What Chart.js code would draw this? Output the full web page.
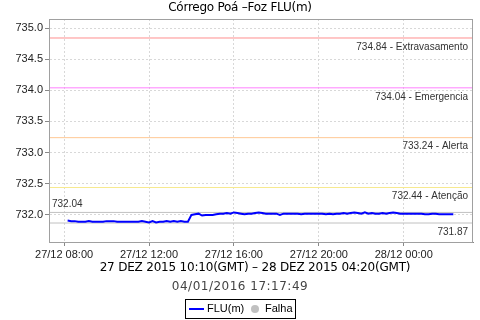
<!DOCTYPE html>
<html>
<head>
<meta charset="utf-8">
<script src="https://cdn.jsdelivr.net/npm/chart.js@4.4.1/dist/chart.umd.min.js"></script>
<style>
  html, body { margin: 0; padding: 0; background: #fff; }
</style>
</head>
<body>
<canvas id="levelChart" width="480" height="320"></canvas>
<script>
// readings, local time (GMT-2), 27/12 08:10 -> 28/12 02:20
const times = [
  '08:10','08:20','08:30','08:40','08:50',
  '09:00','09:10','09:20','09:30','09:40','09:50',
  '10:00','10:10','10:20','10:30','10:40','10:50',
  '11:00','11:10','11:20','11:30','11:40','11:50',
  '12:00','12:10','12:20','12:30','12:40','12:50',
  '13:00','13:10','13:20','13:30','13:40','13:50',
  '14:00','14:10','14:20','14:30','14:40','14:50',
  '15:00','15:10','15:20','15:30','15:40','15:50',
  '16:00','16:10','16:20','16:30','16:40','16:50',
  '17:00','17:10','17:20','17:30','17:40','17:50',
  '18:00','18:10','18:20','18:30','18:40','18:50',
  '19:00','19:10','19:20','19:30','19:40','19:50',
  '20:00','20:10','20:20','20:30','20:40','20:50',
  '21:00','21:10','21:20','21:30','21:40','21:50',
  '22:00','22:10','22:20','22:30','22:40','22:50',
  '23:00','23:10','23:20','23:30','23:40','23:50',
  '00:00','00:10','00:20','00:30','00:40','00:50',
  '01:00','01:10','01:20','01:30','01:40','01:50',
  '02:00','02:10','02:20'
];
const levels = [
  731.91, 731.90, 731.90, 731.89, 731.89,
  731.89, 731.90, 731.89, 731.89, 731.89, 731.89,
  731.90, 731.90, 731.90, 731.89, 731.89, 731.89,
  731.89, 731.89, 731.89, 731.89, 731.90, 731.89,
  731.88, 731.90, 731.88, 731.89, 731.89, 731.90,
  731.89, 731.90, 731.89, 731.90, 731.89, 731.89,
  732.00, 732.01, 732.02, 731.99, 732.00, 732.00,
  732.00, 732.01, 732.02, 732.02, 732.03, 732.02,
  732.04, 732.03, 732.02, 732.01, 732.02, 732.02,
  732.03, 732.04, 732.03, 732.02, 732.02, 732.02,
  732.02, 732.00, 732.02, 732.02, 732.02, 732.02,
  732.02, 732.01, 732.02, 732.02, 732.02, 732.02,
  732.02, 732.02, 732.01, 732.02, 732.01, 732.02,
  732.02, 732.03, 732.02, 732.03, 732.04, 732.03,
  732.02, 732.04, 732.02, 732.03, 732.02, 732.02,
  732.03, 732.02, 732.03, 732.04, 732.03, 732.02,
  732.02, 732.02, 732.02, 732.02, 732.02, 732.02,
  732.01, 732.01, 732.02, 732.02, 732.01, 732.01,
  732.01, 732.01, 732.01
];

const limitValues = [734.84, 734.04, 733.24, 732.44];
const limitNames = ['Extravasamento', 'Emergencia', 'Alerta', 'Atenção'];
const limitColors = ['#ff8f8f', '#ff80ff', '#ffc894', '#f7e98e'];
const maxLevel = 732.04;
const minLevel = 731.87;

const title = 'Córrego Poá –Foz FLU(m)';
const period = '27 DEZ 2015 10:10(GMT) – 28 DEZ 2015 04:20(GMT)';
const stamp = '04/01/2016 17:17:49';
const legendNames = ['FLU(m)', 'Falha'];

// x axis in hours since 27/12 00:00
const xMin = 7.29, xMax = 27.26;
function toHours(t) {
  let h = parseInt(t.slice(0, 2)) + parseInt(t.slice(3)) / 60;
  if (h < 8) h += 24;
  return h;
}
const points = times.map((t, i) => ({ x: toHours(t), y: levels[i] }));

function hline(v, color) {
  return {
    data: [{ x: xMin, y: v }, { x: xMax, y: v }],
    borderColor: color,
    borderWidth: 1,
    pointRadius: 0
  };
}

const font = 'DejaVu Sans';
const narrow = 'Liberation Sans';

const extras = {
  id: 'extras',
  afterDraw(c) {
    const ctx = c.ctx;
    const a = c.chartArea;
    const y = c.scales.y;
    ctx.save();
    // frame
    ctx.strokeStyle = '#a0a0a0';
    ctx.lineWidth = 1;
    ctx.strokeRect(a.left + 0.5, a.top + 0.5, a.right - a.left - 1, a.bottom - a.top);

    // limit labels
    ctx.font = '10px ' + narrow;
    ctx.fillStyle = '#333';
    ctx.textAlign = 'right';
    ctx.textBaseline = 'top';
    limitValues.forEach((v, i) => {
      ctx.fillText(v.toFixed(2) + ' - ' + limitNames[i], a.right - 5, y.getPixelForValue(v) + 4);
    });
    ctx.fillText(minLevel.toFixed(2), a.right - 5, y.getPixelForValue(minLevel) + 4);
    ctx.textAlign = 'left';
    ctx.textBaseline = 'bottom';
    ctx.fillText(maxLevel.toFixed(2), a.left + 3, y.getPixelForValue(maxLevel) - 3);

    // titles
    ctx.textAlign = 'center';
    ctx.textBaseline = 'middle';
    ctx.fillStyle = '#000';
    ctx.font = '12px ' + font;
    ctx.letterSpacing = '-0.25px';
    ctx.fillText(title, 240, 8);
    ctx.letterSpacing = '-0.2px';
    ctx.fillText(period, 255, 268);
    ctx.fillStyle = '#444';
    ctx.letterSpacing = '0.5px';
    ctx.fillText(stamp, 240, 287);
    ctx.letterSpacing = '0px';

    // legend
    ctx.strokeStyle = '#000';
    ctx.strokeRect(185.5, 299.5, 110, 19);
    ctx.strokeStyle = '#0000ff';
    ctx.lineWidth = 2;
    ctx.beginPath();
    ctx.moveTo(189, 309);
    ctx.lineTo(204, 309);
    ctx.stroke();
    ctx.font = '11px ' + narrow;
    ctx.fillStyle = '#000';
    ctx.textAlign = 'left';
    ctx.fillText(legendNames[0], 207, 309);
    ctx.fillStyle = '#c0c0c0';
    ctx.beginPath();
    ctx.arc(255, 309, 4, 0, Math.PI * 2);
    ctx.fill();
    ctx.fillStyle = '#000';
    ctx.fillText(legendNames[1], 265, 309);
    ctx.restore();
  }
};

const ctx = document.getElementById('levelChart').getContext('2d');
const chart = new Chart(ctx, {
  type: 'line',
  data: {
    datasets: [
      {
        label: legendNames[0],
        data: points,
        borderColor: '#0000ff',
        borderWidth: 2,
        pointRadius: 0,
        tension: 0
      },
      ...limitValues.map((v, i) => hline(v, limitColors[i])),
      hline(maxLevel, '#c0c0c0'),
      hline(minLevel, '#c0c0c0')
    ]
  },
  options: {
    responsive: false,
    animation: false,
    layout: { padding: { left: 0, right: 7, top: 19, bottom: 58 } },
    plugins: {
      legend: { display: false },
      title: { display: false },
      tooltip: { enabled: false }
    },
    scales: {
      x: {
        type: 'linear',
        min: xMin,
        max: xMax,
        afterFit: s => { s.height = 20; },
        ticks: {
          stepSize: 4,
          includeBounds: false,
          autoSkip: false,
          maxRotation: 0,
          padding: 2,
          color: '#222',
          font: { family: narrow, size: 11 },
          callback: v => v < 24 ? '27/12 ' + String(v).padStart(2, '0') + ':00' : '28/12 00:00'
        },
        grid: { color: '#d8d8d8', tickLength: 4, tickColor: '#888' },
        border: { color: '#888', dash: [2, 2] }
      },
      y: {
        min: 731.565,
        max: 735.145,
        afterFit: s => { s.width = 49; },
        ticks: {
          stepSize: 0.5,
          includeBounds: false,
          padding: 2,
          color: '#222',
          font: { family: narrow, size: 11 },
          callback: v => v.toFixed(1)
        },
        grid: { color: '#d8d8d8', tickLength: 4, tickColor: '#888' },
        border: { color: '#888', dash: [2, 2] }
      }
    }
  },
  plugins: [extras]
});
</script>
</body>
</html>
